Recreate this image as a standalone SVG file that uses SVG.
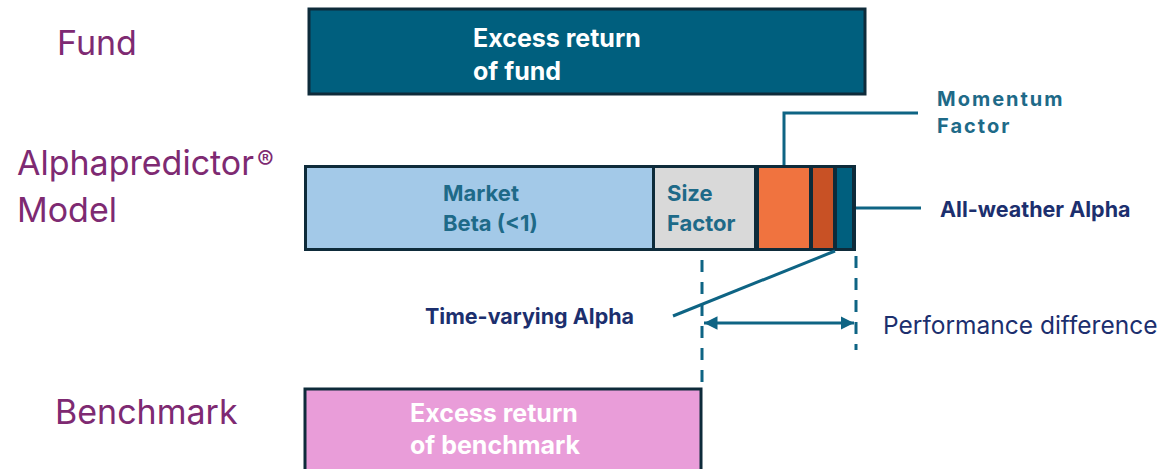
<svg xmlns="http://www.w3.org/2000/svg" width="1158" height="469" viewBox="0 0 1158 469">
<style>
  .lbl { font-family: "Inter", "Liberation Sans", sans-serif; font-size: 34px; fill: #7E2A72; }
  .inw { font-family: "Inter", "Liberation Sans", sans-serif; font-size: 25px; font-weight: bold; fill: #ffffff; }
  .inb { font-family: "Inter", "Liberation Sans", sans-serif; font-size: 22px; font-weight: bold; fill: #1E6A88; }
  .mom { font-family: "Inter", "Liberation Sans", sans-serif; font-size: 20px; font-weight: bold; fill: #1E6A88; letter-spacing: 2px; }
  .nav { font-family: "Inter", "Liberation Sans", sans-serif; font-size: 21.5px; font-weight: bold; fill: #1C2F6E; }
  .perf { font-family: "Inter", "Liberation Sans", sans-serif; font-size: 24.5px; fill: #1C2F6E; }
  .box { stroke: #0E2B3A; stroke-width: 3; }
  .con { stroke: #0E6484; stroke-width: 3; fill: none; }
  .dash { stroke: #0E6484; stroke-width: 3; fill: none; stroke-dasharray: 12 10; }
</style>
<defs>
  <marker id="ah" viewBox="0 0 10 10" refX="10" refY="5" markerWidth="4.5" markerHeight="4.5" orient="auto-start-reverse">
    <path d="M0,0 L10,5 L0,10 z" fill="#0E6484"/>
  </marker>
</defs>
<rect width="1158" height="469" fill="#ffffff"/>

<g id="labels">
  <text class="lbl" x="57" y="55">Fund</text>
  <text class="lbl" x="17" y="175" font-size="33">Alphapredictor<tspan font-size="25" dx="3" dy="-6">®</tspan></text>
  <text class="lbl" x="17" y="222" font-size="33">Model</text>
  <text class="lbl" x="55" y="424">Benchmark</text>
</g>

<g id="fund">
  <rect class="box" x="309" y="9" width="556" height="85" fill="#005F7E"/>
  <text class="inw" x="473" y="47">Excess return</text>
  <text class="inw" x="473" y="80">of fund</text>
</g>

<g id="model">
  <rect x="304" y="165" width="552" height="86" fill="#0E2B3A"/>
  <rect x="307" y="168" width="345" height="80" fill="#A3C9E8"/>
  <rect x="655" y="168" width="99" height="80" fill="#D9D9D9"/>
  <rect x="759" y="168" width="50" height="80" fill="#F0733F"/>
  <rect x="813" y="168" width="20" height="80" fill="#C85125"/>
  <rect x="837" y="168" width="15" height="80" fill="#005F7E"/>
  <text class="inb" x="443" y="201">Market</text>
  <text class="inb" x="443" y="231">Beta (&lt;1)</text>
  <text class="inb" x="667" y="201">Size</text>
  <text class="inb" x="667" y="231">Factor</text>
</g>

<g id="benchmark">
  <rect class="box" x="305" y="389" width="396" height="84" fill="#E99DD9"/>
  <text class="inw" x="410" y="422">Excess return</text>
  <text class="inw" x="410" y="454">of benchmark</text>
</g>

<g id="connectors">
  <polyline class="con" points="784,165 784,113 918,113"/>
  <line class="con" x1="856" y1="208" x2="921" y2="208"/>
  <line class="con" x1="835" y1="251" x2="673" y2="316"/>
  <line class="dash" x1="702" y1="260" x2="702" y2="390"/>
  <line class="dash" x1="856" y1="256" x2="856" y2="350"/>
  <line class="con" x1="704" y1="323" x2="854" y2="323" marker-start="url(#ah)" marker-end="url(#ah)"/>
</g>

<g id="annotations">
  <text class="mom" x="937" y="106">Momentum</text>
  <text class="mom" x="937" y="133">Factor</text>
  <text class="nav" x="940" y="217">All-weather Alpha</text>
  <text class="nav" x="425" y="324">Time-varying Alpha</text>
  <text class="perf" x="883" y="334">Performance difference</text>
</g>
</svg>
